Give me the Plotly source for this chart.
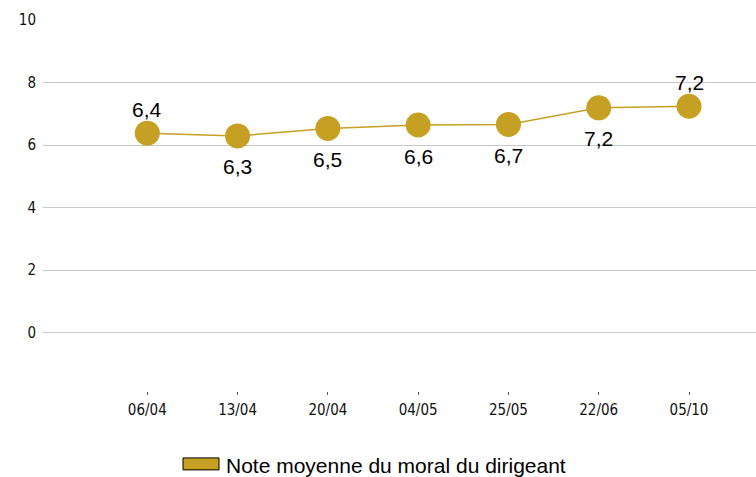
import plotly.graph_objects as go

dates = ["06/04", "13/04", "20/04", "04/05", "25/05", "22/06", "05/10"]
moral = [6.38, 6.29, 6.53, 6.64, 6.66, 7.19, 7.24]
label_above = [True, False, False, False, False, False, True]
y_ticks = [0, 2, 4, 6, 8, 10]
series_name = "Note moyenne du moral du dirigeant"

gold = "#C5A022"
W, H = 756, 477
L, R, T, B = 43, 0, 19.5, 82
pw, ph = W - L - R, H - T - B

def px(x):
    return (x - L) / pw

def py(y):
    return (H - B - y) / ph

label_font = dict(family="Liberation Sans, Arial", size=21, color="#000")

fig = go.Figure()
fig.add_trace(go.Scatter(
    x=dates, y=moral, mode="lines+markers",
    line=dict(color=gold, width=1.5),
    marker=dict(color=gold, size=25, line=dict(width=0)),
    showlegend=False, cliponaxis=False, name=series_name,
))

# data labels
for d, v, above in zip(dates, moral, label_above):
    fig.add_annotation(x=d, y=v, text=f"{v:.1f}".replace(".", ","),
                       showarrow=False, xanchor="center", yanchor="middle",
                       yshift=24 if above else -31, font=label_font)

# legend (manual)
fig.add_shape(type="rect", xref="paper", yref="paper",
              x0=px(183), x1=px(219), y0=py(470), y1=py(458),
              fillcolor=gold, line=dict(color="#000", width=1))
fig.add_annotation(xref="paper", yref="paper", x=px(224), y=py(466),
                   xanchor="left", yanchor="middle", showarrow=False,
                   text=series_name, font=label_font)

tick_font = dict(family="DejaVu Sans Condensed, DejaVu Sans", size=15, color="#111")
fig.update_layout(
    width=W, height=H, margin=dict(l=L, r=R, t=T, b=B, autoexpand=False),
    paper_bgcolor="white", plot_bgcolor="white",
    separators=", ", showlegend=False,
    xaxis=dict(type="category", range=[-1.155, 6.742], showgrid=False,
               showline=False, zeroline=False, ticks="inside", ticklen=3,
               tickcolor="#555", tickwidth=1, automargin=False,
               ticklabelstandoff=4, tickfont=tick_font),
    yaxis=dict(range=[-2, 10], tickvals=y_ticks, showgrid=True,
               gridcolor="#c8c8c8", gridwidth=1, zeroline=False, showline=False,
               ticks="", ticklabelstandoff=6, automargin=False,
               tickfont=tick_font),
)

fig.write_html("out.html", config={"displayModeBar": False},
               post_script="document.body.style.margin='0';document.body.style.overflow='hidden';")
